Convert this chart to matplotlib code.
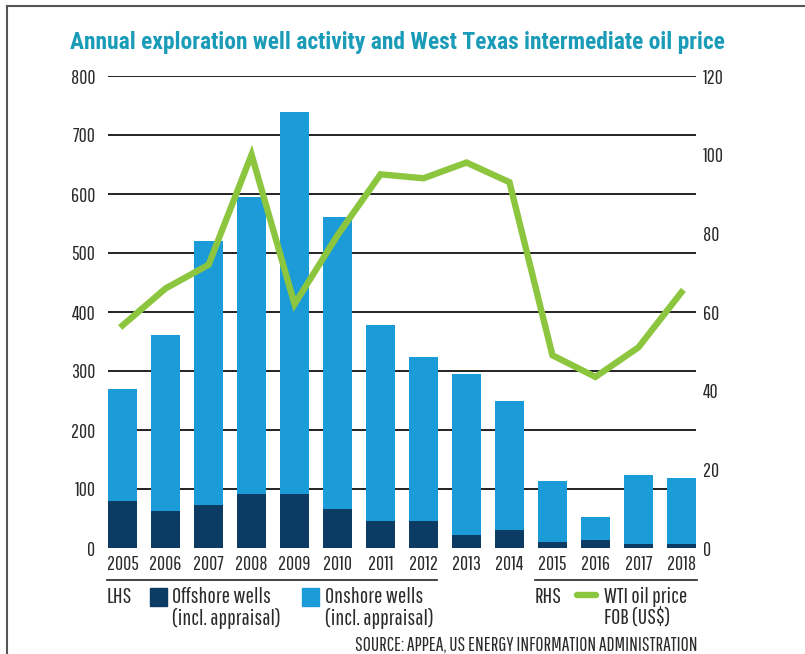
import matplotlib
matplotlib.use("Agg")
import matplotlib.pyplot as plt
from matplotlib import font_manager
from matplotlib.patches import Rectangle
from matplotlib.lines import Line2D
from matplotlib.font_manager import FontProperties
from matplotlib.textpath import TextPath

years = ["2005", "2006", "2007", "2008", "2009", "2010", "2011",
         "2012", "2013", "2014", "2015", "2016", "2017", "2018"]
offshore = [80, 63, 73, 92, 92, 66, 46, 46, 22, 31, 10, 14, 6, 6]
total_wells = [270, 361, 520, 595, 739, 561, 378, 324, 295, 250, 114, 53, 124, 119]
onshore = [t - o for t, o in zip(total_wells, offshore)]
wti = [56.6, 66, 72, 100, 62, 79.5, 95, 94, 98, 93, 49, 43.5, 51, 65]
left_ticks = [0, 100, 200, 300, 400, 500, 600, 700, 800]
right_ticks = [0, 20, 40, 60, 80, 100, 120]

names = {f.name for f in font_manager.fontManager.ttflist}
def pick(cands, default="DejaVu Sans"):
    for c in cands:
        if c in names:
            return c
    return default

BODY = pick(["Pathway Gothic One", "Roboto Condensed", "Barlow Condensed", "Archivo Narrow",
             "PT Sans Narrow", "Encode Sans Condensed", "Saira Condensed", "Open Sans Condensed",
             "Liberation Sans Narrow"])
TITLE = pick(["Roboto Condensed", "Barlow Condensed", "Archivo Narrow", "PT Sans Narrow",
              "Encode Sans Condensed", "Saira Condensed", "Oswald"])
plt.rcParams["font.family"] = [BODY, "DejaVu Sans"]

def fit_size(text, family, weight, target_px):
    fp = FontProperties(family=[family, "DejaVu Sans"], weight=weight, size=10)
    tp = TextPath((0, 0), text, prop=fp)
    ext = tp.get_extents()
    w_px = ext.width * 100 / 72
    return 10 * target_px / w_px

OFF = "#0c3b63"
ON = "#1b9bd7"
GREEN = "#8cc63f"
TEAL = "#1a9bb8"
TXT = "#2a2a2a"
BW_ = "normal"

W, H = 805, 654
fig = plt.figure(figsize=(W / 100, H / 100), dpi=100)
ax = fig.add_axes([108 / W, 1 - 548 / H, (696 - 108) / W, (548 - 76) / H])
ax2 = ax.twinx()

tick_fs = min(max(fit_size("2005", BODY, BW_, 30), 8), 16)
leg_fs = min(max(fit_size("Offshore wells", BODY, BW_, 108), 8), 16)
src_fs = min(max(fit_size("SOURCE: APPEA, US ENERGY INFORMATION ADMINISTRATION", BODY, BW_, 366), 7), 14)
title_fs = min(max(fit_size("Annual exploration well activity and West Texas intermediate oil price",
                            TITLE, "bold", 655), 10), 22)

x = list(range(len(years)))
bw = 0.68
for v in left_ticks[1:]:
    ax.axhline(v, color="#111111", lw=1.3, zorder=0)
ax.bar(x, offshore, width=bw, color=OFF, zorder=2)
ax.bar(x, onshore, width=bw, bottom=offshore, color=ON, zorder=2)
ax.set_xlim(-bw / 2, len(years) - 1 + bw / 2)
ax.set_ylim(0, 800)
ax.set_yticks(left_ticks)
ax.set_yticklabels([str(v) for v in left_ticks])
ax.set_xticks(x)
ax.set_xticklabels(years)
ax.tick_params(axis="y", length=0, pad=9, labelsize=tick_fs, labelcolor=TXT)
ax.tick_params(axis="x", length=0, pad=5, labelsize=tick_fs, labelcolor=TXT)
for s in ax.spines.values():
    s.set_visible(False)

ax2.plot(x, wti, color=GREEN, lw=4.6, solid_joinstyle="miter", zorder=5)
ax2.set_ylim(0, 120)
ax2.set_yticks(right_ticks)
ax2.set_yticklabels([str(v) for v in right_ticks])
ax2.tick_params(axis="y", length=0, pad=5, labelsize=tick_fs, labelcolor=TXT)
for s in ax2.spines.values():
    s.set_visible(False)
ax2.set_zorder(ax.get_zorder() + 1)
ax2.patch.set_visible(False)

def px(xp, yp):
    return xp / W, 1 - yp / H

fig.text(*px(70, 42), "Annual exploration well activity and West Texas intermediate oil price",
         color=TEAL, fontsize=title_fs, fontweight="bold", va="center", ha="left",
         family=[TITLE, "DejaVu Sans"])

fig.add_artist(Line2D([7 / W, 7 / W], [0, 1 - 6 / H], transform=fig.transFigure, color="#555555", lw=1.5))
fig.add_artist(Line2D([7 / W, 1], [1 - 6 / H, 1 - 6 / H], transform=fig.transFigure, color="#555555", lw=1.5))

fig.add_artist(Line2D([107 / W, 437 / W], [1 - 580 / H] * 2, transform=fig.transFigure, color="#222222", lw=1.2))
fig.add_artist(Line2D([535 / W, 697 / W], [1 - 580 / H] * 2, transform=fig.transFigure, color="#222222", lw=1.2))

fs = leg_fs
fig.text(*px(107, 597), "LHS", fontsize=fs, color=TXT, va="center")
fig.add_artist(Rectangle(px(150, 606), 17 / W, 18 / H, transform=fig.transFigure, color=OFF))
fig.text(*px(172, 597), "Offshore wells", fontsize=fs, color=TXT, va="center")
fig.text(*px(172, 618), "(incl. appraisal)", fontsize=fs, color=TXT, va="center")
fig.add_artist(Rectangle(px(302, 606), 17 / W, 18 / H, transform=fig.transFigure, color=ON))
fig.text(*px(325, 597), "Onshore wells", fontsize=fs, color=TXT, va="center")
fig.text(*px(325, 618), "(incl. appraisal)", fontsize=fs, color=TXT, va="center")
fig.text(*px(535, 597), "RHS", fontsize=fs, color=TXT, va="center")
fig.add_artist(Line2D([577 / W, 596 / W], [1 - 595 / H] * 2, transform=fig.transFigure,
                      color=GREEN, lw=4.6, solid_capstyle="round"))
fig.text(*px(604, 597), "WTI oil price", fontsize=fs, color=TXT, va="center")
fig.text(*px(604, 618), "FOB (US$)", fontsize=fs, color=TXT, va="center")
fig.text(*px(697, 645), "SOURCE: APPEA, US ENERGY INFORMATION ADMINISTRATION",
         fontsize=src_fs, color=TXT, va="center", ha="right")

fig.savefig("out.png", dpi=100, facecolor="white")
